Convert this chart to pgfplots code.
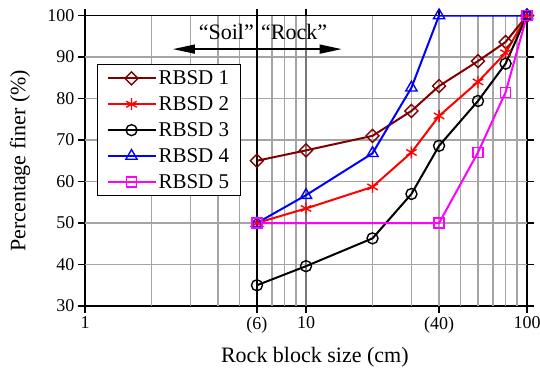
\documentclass[border=0pt]{standalone}
\usepackage{fontspec}
\setmainfont{Liberation Serif}
\usepackage{pgfplots}
\pgfplotsset{compat=1.18}
\usetikzlibrary{arrows.meta}

\definecolor{rbsdone}{RGB}{128,0,0}
\definecolor{rbsdtwo}{RGB}{255,0,0}
\definecolor{rbsdfour}{RGB}{0,0,255}
\definecolor{rbsdfive}{RGB}{255,0,255}
\definecolor{gridgray}{RGB}{165,165,165}
\definecolor{decadegray}{RGB}{120,120,120}

\begin{document}
\begin{tikzpicture}
\path[use as bounding box] (-85pt,-69pt) rectangle (455pt,306pt);
\begin{axis}[
  scale only axis,
  width=442pt, height=290.5pt,
  xmode=log, log basis x=10,
  xmin=1, xmax=100, ymin=30, ymax=100,
  xtick={1,10,100}, xticklabels={1,10,100},
  extra x ticks={6,40}, extra x tick labels={(6),(40)},
  ytick={30,40,...,100},
  /pgf/number format/assume math mode=true,
  axis line style={black, line width=1.2pt},
  tick align=outside,
  major tick length=7pt, minor tick length=5pt,
  every major tick/.append style={black, line width=1.2pt},
  every minor tick/.append style={black, line width=1.2pt},
  ticklabel style={font=\fontsize{18}{20}\selectfont},
  xlabel={Rock block size (cm)},
  ylabel={Percentage finer (\%)},
  every axis x label/.style={at={(axis description cs:0.52,-0.176)}, anchor=center,
    font=\fontsize{22}{24}\selectfont},
  every axis y label/.style={at={(axis description cs:-0.147,0.5)}, anchor=center, rotate=90,
    font=\fontsize{22}{24}\selectfont},
  legend style={at={(axis description cs:0.027,0.833)}, anchor=north west,
    draw=black, line width=1.2pt, fill=white,
    font=\fontsize{21}{24}\selectfont, row sep=6.5pt,
    inner xsep=9pt, inner ysep=4pt},
  legend cell align=left,
  legend image code/.code={\draw[mark repeat=2,mark phase=2] plot coordinates {(0pt,0pt)(24pt,0pt)(48pt,0pt)};},
  every axis plot/.append style={line width=2pt},
]
% grid lines: every 10 % in y
\draw[gridgray, line width=1.6pt]
  (axis cs:1,40) -- (axis cs:100,40)
  (axis cs:1,50) -- (axis cs:100,50)
  (axis cs:1,60) -- (axis cs:100,60)
  (axis cs:1,70) -- (axis cs:100,70)
  (axis cs:1,80) -- (axis cs:100,80)
  (axis cs:1,90) -- (axis cs:100,90);
% grid lines: minor positions of each decade in x
\draw[gridgray, line width=1.6pt]
  (axis cs:2,30) -- (axis cs:2,100)
  (axis cs:3,30) -- (axis cs:3,100)
  (axis cs:4,30) -- (axis cs:4,100)
  (axis cs:5,30) -- (axis cs:5,100)
  (axis cs:7,30) -- (axis cs:7,100)
  (axis cs:8,30) -- (axis cs:8,100)
  (axis cs:9,30) -- (axis cs:9,100)
  (axis cs:20,30) -- (axis cs:20,100)
  (axis cs:30,30) -- (axis cs:30,100)
  (axis cs:40,30) -- (axis cs:40,100)
  (axis cs:50,30) -- (axis cs:50,100)
  (axis cs:60,30) -- (axis cs:60,100)
  (axis cs:70,30) -- (axis cs:70,100)
  (axis cs:80,30) -- (axis cs:80,100)
  (axis cs:90,30) -- (axis cs:90,100);
% darker line at the decade 10 and the soil/rock boundary at 6
\draw[decadegray, line width=1.6pt] (axis cs:10,30) -- (axis cs:10,100);
\draw[black, line width=1.6pt] (axis cs:6,30) -- (axis cs:6,100);

\addplot[color=rbsdone, mark=square, mark size=4.6pt,
  mark options={rotate=45, fill=white, line width=1.4pt, solid}]
  coordinates {(6,65)(10,67.5)(20,71)(30,77)(40,83)(60,89)(80,93.6)(100,100)};
\addlegendentry{RBSD 1}

\addplot[color=rbsdtwo, mark=asterisk, mark size=6pt,
  mark options={line width=1.4pt, solid}]
  coordinates {(6,50)(10,53.5)(20,58.7)(30,67)(40,75.8)(60,84)(80,91)(100,100)};
\addlegendentry{RBSD 2}

\addplot[color=black, mark=o, mark size=5.5pt,
  mark options={fill=white, line width=1.4pt, solid}]
  coordinates {(6,35)(10,39.6)(20,46.3)(30,57)(40,68.6)(60,79.4)(80,88.4)(100,100)};
\addlegendentry{RBSD 3}

\addplot[color=rbsdfour, mark=triangle, mark size=6.5pt,
  mark options={fill=white, line width=1.4pt, solid}]
  coordinates {(6,50)(10,56.7)(20,66.8)(30,82.6)(40,100)(100,100)};
\addlegendentry{RBSD 4}

\addplot[color=rbsdfive, mark=square, mark size=5pt,
  mark options={fill=white, line width=1.4pt, solid}]
  coordinates {(6,50)(40,50)(60,67)(80,81.5)(100,100)};
\addlegendentry{RBSD 5}

% "Soil" / "Rock" annotation
\draw[black, line width=1.5pt, {Triangle[length=22pt,width=9pt]}-{Triangle[length=22pt,width=9pt]}]
  (axis cs:2.5,91.9) -- (axis cs:14.5,91.9);
\node[anchor=base east, inner sep=0pt, font=\fontsize{22}{24}\selectfont] at ([xshift=-3pt]axis cs:6,94.3) {“Soil”};
\node[anchor=base west, inner sep=0pt, font=\fontsize{22}{24}\selectfont] at ([xshift=4pt]axis cs:6,94.3) {“Rock”};
\end{axis}
\end{tikzpicture}
\end{document}
